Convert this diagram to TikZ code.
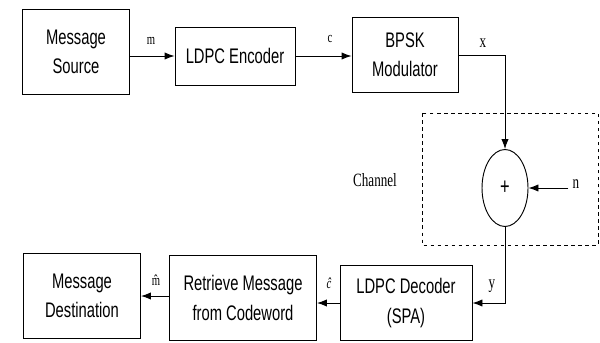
\documentclass[tikz,border=0pt]{standalone}
\usepackage{fontspec}
\setmainfont{Liberation Serif}[FakeStretch=0.7]
\setsansfont{Liberation Sans}[FakeStretch=0.7]
\usetikzlibrary{arrows.meta,shapes.geometric}

\begin{document}
\begin{tikzpicture}[x=0.03cm,y=-0.03cm,
  blockbox/.style={draw,line width=0.8pt,align=center,inner sep=0pt,
    font=\sffamily\fontsize{18}{25}\selectfont},
  sig/.style={line width=0.8pt,-{Latex[length=3mm,width=2.2mm]}},
  wire/.style={line width=0.8pt},
  lbl/.style={font=\fontsize{16}{18}\selectfont,inner sep=0pt},
  smalllbl/.style={font=\fontsize{13}{15}\selectfont,inner sep=0pt}]

\useasboundingbox (0,0) rectangle (600,343);

\node[blockbox,minimum width=3.21cm,minimum height=2.55cm] (src) at (76,52) {Message\\Source};
\node[blockbox,minimum width=3.6cm,minimum height=1.74cm] (enc) at (235,56) {LDPC Encoder};
\node[blockbox,minimum width=3.18cm,minimum height=2.25cm] (mod) at (405,55) {BPSK\\Modulator};
\node[blockbox,minimum width=3.96cm,minimum height=2.25cm] (dec) at (406,303) {LDPC Decoder\\(SPA)};
\node[blockbox,minimum width=4.41cm,minimum height=2.55cm] (ret) at (243,298) {Retrieve Message\\from Codeword};
\node[blockbox,minimum width=3.51cm,minimum height=2.55cm] (dst) at (82,296) {Message\\Destination};

\draw[dashed,line width=0.8pt] (422,113) rectangle (598,245);
\node[lbl] (chan) at (375,180) {Channel};

\node[draw,ellipse,line width=0.8pt,inner sep=0pt,minimum width=1.38cm,minimum height=2.31cm,
  font=\sffamily\fontsize{20}{20}\selectfont] (sum) at (505,188) {+};
\node[lbl] (n) at (576,184) {n};

\draw[sig] (src.east |- enc) -- (enc.west);
\draw[sig] (enc.east) -- (mod.west |- enc);
\draw[sig] (mod.east) -| (sum.north);
\draw[sig] (n.west) ++(-4,4) -- (sum.east);
\draw[sig] (sum.south) |- (dec.east);
\draw[sig] (dec.west) -- (ret.east |- dec);
\draw[sig] (ret.west |- dst) -- (dst.east);

\node[smalllbl] (lm) at (151,41) {m};
\node[smalllbl] (lc) at (330,39) {c};
\node[lbl] (lx) at (483,43) {x};
\node[lbl] (ly) at (492,286) {y};
\node[smalllbl] (lch) at (329,283) {\textit{\^c}};
\node[smalllbl] (lmh) at (156,280) {\^m};

\end{tikzpicture}
\end{document}
